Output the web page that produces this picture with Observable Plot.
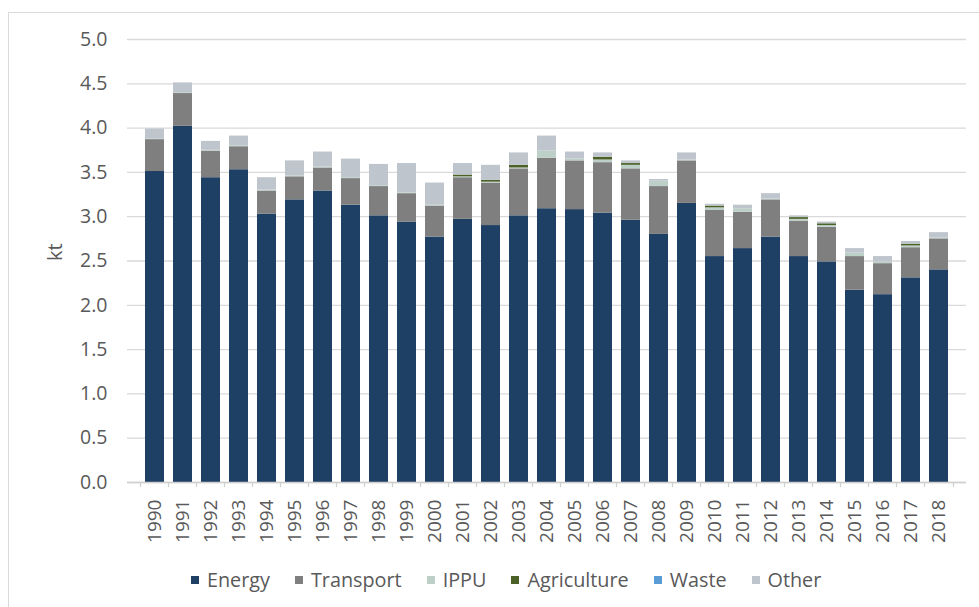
<!DOCTYPE html>
<html>
<head>
<meta charset="utf-8">
<script src="https://cdn.jsdelivr.net/npm/d3@7"></script>
<script src="https://cdn.jsdelivr.net/npm/@observablehq/plot@0.6"></script>
<style>
  body { margin: 0; background: #fff; font-family: "Open Sans", sans-serif; }
  #wrap { position: relative; width: 979px; height: 607px; overflow: hidden; background: #fff; }
  #frame { position: absolute; left: 8px; top: 12px; width: 1100px; height: 800px; border: 1px solid #d9d9d9; z-index: 2; pointer-events: none; }
  #chart { position: absolute; left: 0; top: 0; }
  #legend { position: absolute; top: 566px; left: 191px; display: flex; align-items: center; gap: 25px;
            font-family: "Open Sans", sans-serif; font-size: 19.8px; color: #595959; white-space: nowrap; }
  .item { display: flex; align-items: center; }
  .sw { width: 8px; height: 8px; margin-right: 8px; display: inline-block; }
</style>
</head>
<body>
<div id="wrap">
  <div id="frame"></div>
  <div id="chart"></div>
  <div id="legend"></div>
</div>
<script>
const years = ["1990","1991","1992","1993","1994","1995","1996","1997","1998","1999",
               "2000","2001","2002","2003","2004","2005","2006","2007","2008","2009",
               "2010","2011","2012","2013","2014","2015","2016","2017","2018"];
const energy      = [3.51,4.02,3.44,3.53,3.03,3.19,3.29,3.13,3.01,2.94,
                     2.77,2.97,2.90,3.01,3.09,3.08,3.04,2.96,2.80,3.15,
                     2.55,2.64,2.77,2.55,2.49,2.17,2.12,2.31,2.40];
const transport   = [0.36,0.37,0.30,0.26,0.26,0.26,0.26,0.30,0.33,0.32,
                     0.35,0.47,0.48,0.53,0.57,0.55,0.57,0.58,0.54,0.48,
                     0.52,0.41,0.42,0.40,0.39,0.38,0.35,0.34,0.35];
const ippu        = [0.01,0.01,0.01,0.01,0.01,0.01,0.01,0.01,0.01,0.01,
                     0.01,0.01,0.01,0.01,0.08,0.02,0.03,0.04,0.06,0.01,
                     0.03,0.04,0.01,0.02,0.02,0.04,0.02,0.02,0.01];
const agriculture = [0,0,0,0,0,0,0,0,0,0,
                     0,0.02,0.02,0.03,0,0,0.03,0.02,0,0,
                     0.02,0,0,0.02,0.02,0,0,0.02,0];
const waste       = [0,0,0,0,0,0,0,0,0,0,
                     0,0,0,0,0,0,0,0,0,0,
                     0,0,0,0,0,0,0,0,0];
const other       = [0.11,0.11,0.10,0.11,0.14,0.17,0.17,0.21,0.24,0.33,
                     0.25,0.13,0.17,0.14,0.17,0.08,0.05,0.03,0.02,0.08,
                     0.02,0.04,0.06,0.02,0.02,0.05,0.06,0.03,0.06];
const sectors = ["Energy","Transport","IPPU","Agriculture","Waste","Other"];
const colors  = ["#1e4064","#7f7f7f","#bdd0c8","#4b6127","#5b9bd5","#bfc5cd"];
const yTicks  = [0,0.5,1,1.5,2,2.5,3,3.5,4,4.5,5];
const yLabel  = "kt";

const series = [energy, transport, ippu, agriculture, waste, other];
const data = sectors.flatMap((s, i) => years.map((y, j) => ({year: y, sector: s, value: series[i][j]})));

const W = 979, H = 555, ML = 127, MR = 13, MT = 39, MB = 73;
const step = (W - ML - MR) / years.length;
const txt = "#595959";
const font = "'Open Sans', sans-serif";

const chart = Plot.plot({
  width: W, height: H,
  marginLeft: ML, marginRight: MR, marginTop: MT, marginBottom: MB,
  style: {fontFamily: font, fontSize: "19px", color: txt, background: "transparent", overflow: "visible"},
  x: {type: "band", domain: years, paddingInner: 0.31, paddingOuter: 0.155, axis: null},
  y: {domain: [0, 5], axis: null},
  color: {domain: sectors, range: colors},
  marks: [
    Plot.ruleY(yTicks, {stroke: "#d9d9d9", strokeWidth: 1.3}),
    Plot.barY(data, Plot.stackY({x: "year", y: "value", fill: "sector", order: sectors})),
    Plot.ruleY([0], {stroke: "#d0d0d0", strokeWidth: 1.3}),
    Plot.axisX(years, {tickSize: 5, text: null, label: null, dx: -step / 2, stroke: "#d0d0d0", strokeWidth: 1.3}),
    Plot.axisX([years[years.length - 1]], {tickSize: 5, text: null, label: null, dx: step / 2, stroke: "#d0d0d0", strokeWidth: 1.3}),
    Plot.axisX(years, {tickSize: 0, tickRotate: -90, tickPadding: 17, fontSize: 19, fill: txt, label: null}),
    Plot.axisY(yTicks, {tickSize: 0, tickPadding: 20, tickFormat: d => d.toFixed(1), fontSize: 19.5, fill: txt, label: null}),
    Plot.text([yLabel], {frameAnchor: "left", rotate: -90, dx: -72, fontSize: 20, fill: txt})
  ]
});
document.getElementById("chart").appendChild(chart);

const legend = document.getElementById("legend");
sectors.forEach((s, i) => {
  const it = document.createElement("span");
  it.className = "item";
  const sw = document.createElement("span");
  sw.className = "sw";
  sw.style.background = colors[i];
  it.appendChild(sw);
  it.appendChild(document.createTextNode(s));
  legend.appendChild(it);
});
</script>
</body>
</html>
